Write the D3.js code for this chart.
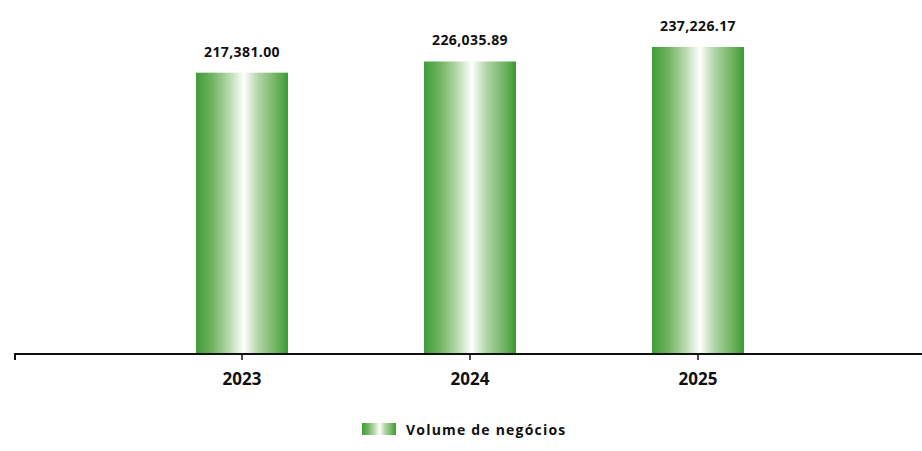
<!DOCTYPE html>
<html>
<head>
<meta charset="utf-8">
<script src="https://cdn.jsdelivr.net/npm/d3@7"></script>
<style>
  html, body { margin: 0; padding: 0; background: #fff; }
  svg { display: block; }
</style>
</head>
<body>
<svg id="svg1" width="922" height="451"></svg>
<script>
var years = ['2023', '2024', '2025'];
var volume = [217381.00, 226035.89, 237226.17];
var seriesName = 'Volume de negócios';

var width = 922;
var height = 451;
var baseY = 354;

var svg = d3.select('#svg1');

var defs = svg.append('defs');
var grad = defs.append('linearGradient')
    .attr('id', 'barGrad')
    .attr('x1', '0%').attr('x2', '100%')
    .attr('y1', '0%').attr('y2', '0%');
grad.append('stop').attr('offset', '0%').attr('stop-color', '#3f9c38');
grad.append('stop').attr('offset', '18%').attr('stop-color', '#72b462');
grad.append('stop').attr('offset', '38%').attr('stop-color', '#bfdeb6');
grad.append('stop').attr('offset', '52%').attr('stop-color', '#ffffff');
grad.append('stop').attr('offset', '68%').attr('stop-color', '#afd4a5');
grad.append('stop').attr('offset', '88%').attr('stop-color', '#6db25e');
grad.append('stop').attr('offset', '100%').attr('stop-color', '#3a9a35');

var x = d3.scalePoint()
    .domain(years)
    .range([14, 926])
    .padding(1);

var y = d3.scaleLinear()
    .domain([0, 237226.17])
    .range([baseY, 47]);

var barW = 92;

svg.selectAll('rect.bar')
    .data(volume)
    .enter()
    .append('rect')
    .attr('class', 'bar')
    .attr('x', function (d, i) { return x(years[i]) - barW / 2; })
    .attr('y', function (d) { return y(d); })
    .attr('width', barW)
    .attr('height', function (d) { return baseY - y(d); })
    .attr('fill', 'url(#barGrad)');

svg.selectAll('text.val')
    .data(volume)
    .enter()
    .append('text')
    .attr('class', 'val')
    .attr('x', function (d, i) { return x(years[i]); })
    .attr('y', function (d) { return y(d) - 16; })
    .attr('text-anchor', 'middle')
    .style('font-family', '"Open Sans", sans-serif')
    .style('font-weight', 'bold')
    .style('font-size', '14px')
    .style('letter-spacing', '0.4px')
    .attr('fill', '#111')
    .text(function (d) { return d3.format(',.2f')(d); });

// x axis
var axis = svg.append('g');
axis.append('line')
    .attr('x1', 14).attr('x2', width)
    .attr('y1', baseY).attr('y2', baseY)
    .attr('stroke', '#111')
    .attr('stroke-width', 2);
axis.append('line')
    .attr('x1', 15).attr('x2', 15)
    .attr('y1', baseY).attr('y2', baseY + 6)
    .attr('stroke', '#111')
    .attr('stroke-width', 2);
axis.selectAll('line.tick')
    .data(years)
    .enter()
    .append('line')
    .attr('class', 'tick')
    .attr('x1', function (d) { return x(d); })
    .attr('x2', function (d) { return x(d); })
    .attr('y1', baseY).attr('y2', baseY + 6)
    .attr('stroke', '#111')
    .attr('stroke-width', 1.5);
axis.selectAll('text')
    .data(years)
    .enter()
    .append('text')
    .attr('x', function (d) { return x(d); })
    .attr('y', 385)
    .attr('text-anchor', 'middle')
    .style('font-family', '"Open Sans", sans-serif')
    .style('font-weight', 'bold')
    .style('font-size', '17px')
    .attr('fill', '#111')
    .text(function (d) { return d; });

// legend
var legend = svg.append('g');
legend.append('rect')
    .attr('x', 362).attr('y', 423)
    .attr('width', 34).attr('height', 12)
    .attr('fill', 'url(#barGrad)');
legend.append('text')
    .attr('x', 406).attr('y', 435)
    .style('font-family', '"Open Sans", sans-serif')
    .style('font-weight', 'bold')
    .style('font-size', '14px')
    .style('letter-spacing', '1.2px')
    .attr('fill', '#111')
    .text(seriesName);
</script>
</body>
</html>
